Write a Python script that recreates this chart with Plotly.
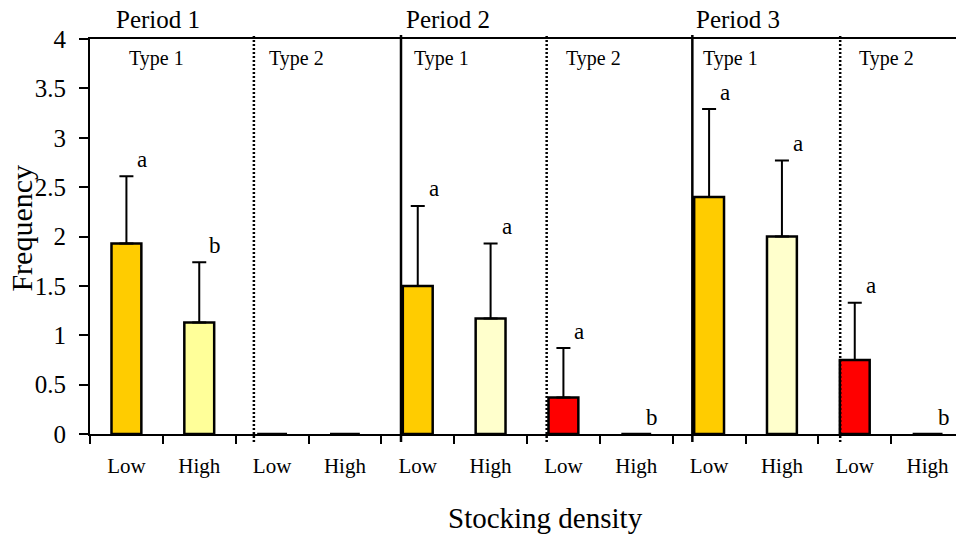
import plotly.graph_objects as go

# Mean frequency per group (Period x Type x Stocking density) and SE
density = ["Low", "High"] * 6
means = [1.93, 1.13, 0.0, 0.0, 1.50, 1.17, 0.37, 0.0, 2.40, 2.00, 0.75, 0.0]
errors = [0.68, 0.61, 0.0, 0.0, 0.81, 0.76, 0.50, 0.0, 0.89, 0.77, 0.58, 0.0]
letters = ["a", "b", "", "", "a", "a", "a", "b", "a", "a", "a", "b"]
bar_colors = ["#FFCC00", "#FFFF99", "#FFCC00", "#FFFF99",
              "#FFCC00", "#FFFFCC", "#FF0000", "#FFFFCC",
              "#FFCC00", "#FFFFCC", "#FF0000", "#FFFFCC"]

periods = ["Period 1", "Period 2", "Period 3"]
period_x = [0.43, 4.41, 8.40]
types = ["Type 1", "Type 2", "Type 1", "Type 2", "Type 1", "Type 2"]
type_x = [0.41, 2.34, 4.32, 6.41, 8.30, 10.44]
# group separators: (position, dash style)
separators = [(1.75, "2px,2px"), (3.77, "solid"), (5.77, "2px,2px"),
              (7.77, "solid"), (9.80, "2px,2px")]

SERIF = "Liberation Serif, Times New Roman, serif"
xpos = list(range(len(means)))

fig = go.Figure()
fig.add_trace(go.Bar(
    x=xpos, y=means, width=0.41,
    marker=dict(color=bar_colors, line=dict(color="black", width=2.5)),
    error_y=dict(type="data", array=errors, arrayminus=[0] * len(errors),
                 symmetric=False, color="black", thickness=2, width=7),
    showlegend=False,
))

# significance letters above each bar/error bar
for x, m, e, t in zip(xpos, means, errors, letters):
    if t:
        fig.add_annotation(x=x, y=m + e, text=t, showarrow=False,
                           xshift=16, yshift=17, yanchor="middle",
                           font=dict(family=SERIF, size=23, color="black"))

for x, t in zip(period_x, periods):
    fig.add_annotation(x=x, y=1, yref="paper", text=t, showarrow=False,
                       yanchor="middle", yshift=20,
                       font=dict(family=SERIF, size=25, color="black"))

for x, t in zip(type_x, types):
    fig.add_annotation(x=x, y=3.8, text=t, showarrow=False, yanchor="middle",
                       font=dict(family=SERIF, size=20, color="black"))

for x, dash in separators:
    fig.add_shape(type="line", xref="x", yref="paper", x0=x, x1=x,
                  y0=-0.02, y1=1.01, line=dict(color="black", width=2.5, dash=dash))

# axis titles
fig.add_annotation(xref="paper", yref="paper", x=0, y=0.52, xshift=-68,
                   text="Frequency", textangle=-90, showarrow=False,
                   xanchor="center", yanchor="middle",
                   font=dict(family=SERIF, size=30, color="black"))
fig.add_annotation(x=5.76, yref="paper", y=-0.2127, text="Stocking density",
                   showarrow=False, xanchor="center", yanchor="middle",
                   font=dict(family=SERIF, size=29, color="black"))

fig.update_xaxes(
    range=[-0.5, 11.39], tickvals=xpos, ticktext=density, ticks="",
    ticklabelstandoff=12,
    tickfont=dict(family=SERIF, size=21, color="black"),
    showline=True, linecolor="black", linewidth=2, mirror=True,
    showgrid=False, zeroline=False,
    minor=dict(tickvals=[v - 0.5 for v in xpos], ticks="outside",
               ticklen=8, tickwidth=2, tickcolor="black", showgrid=False),
)
fig.update_yaxes(
    range=[0, 4], dtick=0.5, tick0=0, ticks="outside", ticklen=9,
    tickwidth=2, tickcolor="black", ticklabelstandoff=8,
    tickfont=dict(family=SERIF, size=25, color="black"),
    showline=True, linecolor="black", linewidth=2,
    showgrid=False, zeroline=False,
)
fig.update_layout(
    width=956, height=535,
    margin=dict(l=90, r=0, t=39, b=101),
    plot_bgcolor="white", paper_bgcolor="white",
    bargap=0.59,
)

fig.write_html("out.html")
